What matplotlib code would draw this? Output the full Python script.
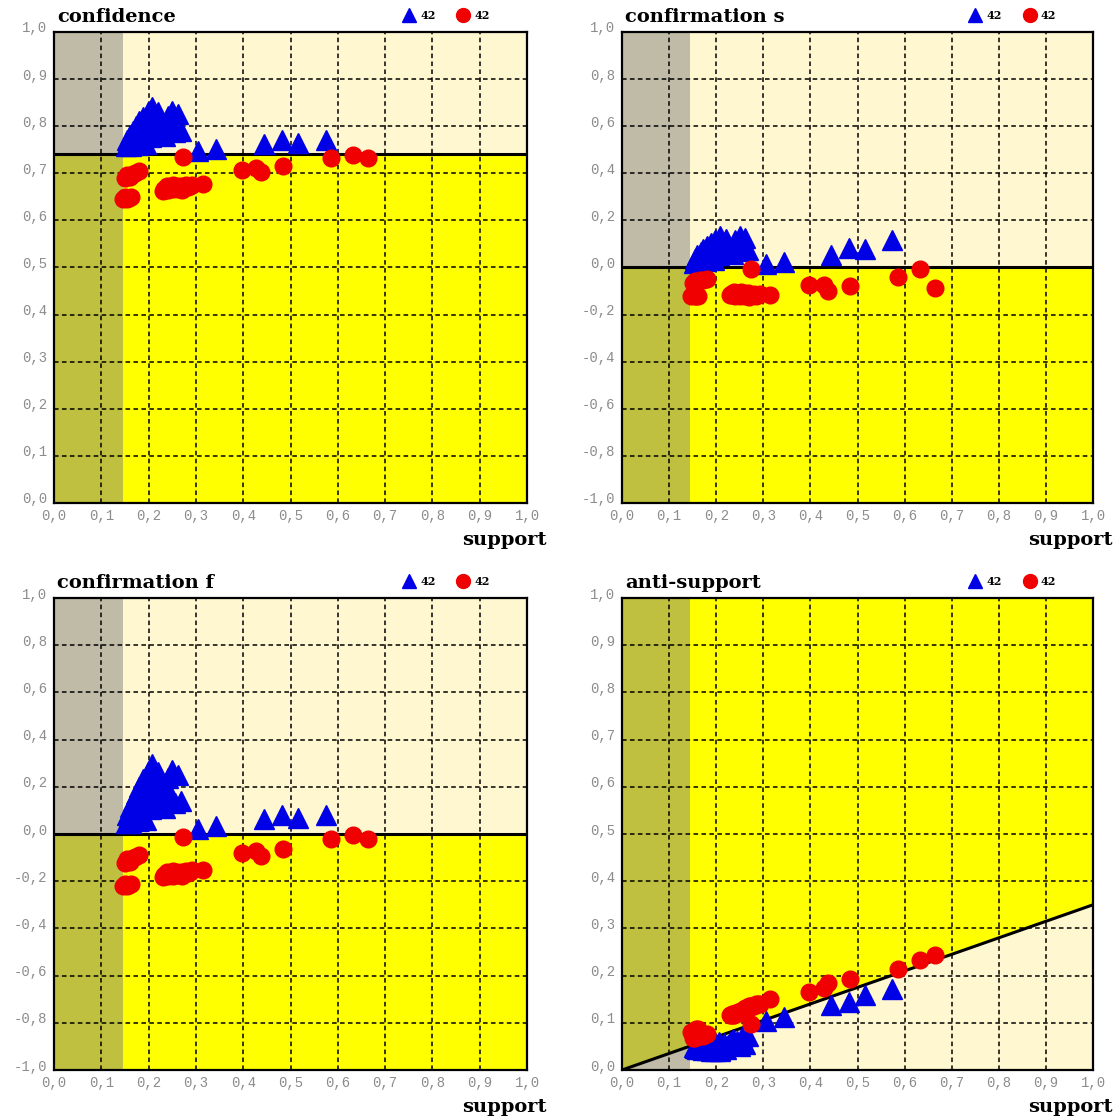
import matplotlib
matplotlib.use("Agg")
import matplotlib.pyplot as plt
import matplotlib.transforms as mtransforms
from matplotlib.lines import Line2D

# --- data (42 rules per group) ---
support_blue = [0.152, 0.155, 0.158, 0.160, 0.163, 0.165, 0.168, 0.170, 0.173, 0.175,
                0.178, 0.180, 0.183, 0.185, 0.188, 0.190, 0.193, 0.195, 0.198, 0.200,
                0.203, 0.205, 0.208, 0.210, 0.213, 0.216, 0.220, 0.225, 0.230, 0.235,
                0.240, 0.245, 0.250, 0.255, 0.262, 0.268, 0.305, 0.343, 0.443, 0.483,
                0.515, 0.574]
confidence_blue = [0.757, 0.770, 0.763, 0.782, 0.758, 0.775, 0.790, 0.765, 0.800, 0.780,
                   0.760, 0.810, 0.792, 0.772, 0.820, 0.805, 0.785, 0.762, 0.830, 0.815,
                   0.798, 0.778, 0.840, 0.825, 0.808, 0.788, 0.830, 0.812, 0.795, 0.780,
                   0.822, 0.800, 0.833, 0.788, 0.826, 0.790, 0.748, 0.752, 0.763, 0.770,
                   0.765, 0.770]
conf_s_blue = [0.021, 0.038, 0.029, 0.053, 0.023, 0.045, 0.064, 0.032, 0.077, 0.052,
               0.026, 0.090, 0.068, 0.042, 0.104, 0.085, 0.060, 0.030, 0.118, 0.099,
               0.078, 0.052, 0.133, 0.114, 0.092, 0.066, 0.123, 0.100, 0.077, 0.057,
               0.116, 0.087, 0.133, 0.071, 0.126, 0.076, 0.014, 0.022, 0.055, 0.081,
               0.077, 0.118]
conf_f_blue = [0.045, 0.081, 0.062, 0.115, 0.048, 0.095, 0.139, 0.067, 0.169, 0.109,
               0.053, 0.199, 0.145, 0.087, 0.231, 0.184, 0.124, 0.059, 0.264, 0.215,
               0.163, 0.104, 0.297, 0.247, 0.193, 0.133, 0.264, 0.206, 0.154, 0.109,
               0.237, 0.169, 0.273, 0.133, 0.250, 0.139, 0.021, 0.032, 0.062, 0.081,
               0.067, 0.081]
antisupport_blue = [0.049, 0.046, 0.049, 0.045, 0.052, 0.048, 0.045, 0.052, 0.043, 0.049,
                    0.056, 0.042, 0.048, 0.055, 0.041, 0.046, 0.053, 0.061, 0.041, 0.045,
                    0.051, 0.059, 0.040, 0.045, 0.051, 0.058, 0.045, 0.052, 0.059, 0.066,
                    0.052, 0.061, 0.050, 0.069, 0.055, 0.071, 0.103, 0.113, 0.138, 0.144,
                    0.158, 0.172]

support_red = [0.150, 0.155, 0.160, 0.166, 0.172, 0.180, 0.146, 0.150, 0.154, 0.158,
               0.162, 0.230, 0.232, 0.234, 0.236, 0.240, 0.244, 0.248, 0.251, 0.255,
               0.258, 0.262, 0.265, 0.268, 0.272, 0.276, 0.280, 0.284, 0.288, 0.292,
               0.252, 0.238, 0.270, 0.314, 0.273, 0.397, 0.428, 0.437, 0.484, 0.586,
               0.632, 0.664]
confidence_red = [0.690, 0.696, 0.692, 0.699, 0.701, 0.704, 0.646, 0.649, 0.646, 0.648,
                  0.650, 0.663, 0.667, 0.665, 0.669, 0.664, 0.668, 0.671, 0.666, 0.670,
                  0.673, 0.667, 0.671, 0.674, 0.669, 0.672, 0.675, 0.670, 0.673, 0.676,
                  0.675, 0.672, 0.665, 0.677, 0.735, 0.707, 0.711, 0.703, 0.715, 0.732,
                  0.739, 0.732]
conf_s_red = [-0.064, -0.057, -0.062, -0.054, -0.052, -0.048, -0.121, -0.118, -0.123, -0.122,
              -0.120, -0.118, -0.112, -0.116, -0.110, -0.119, -0.113, -0.110, -0.119, -0.113,
              -0.109, -0.120, -0.114, -0.110, -0.120, -0.115, -0.111, -0.122, -0.117, -0.113,
              -0.104, -0.105, -0.126, -0.118, -0.008, -0.075, -0.073, -0.098, -0.077, -0.040,
              -0.007, -0.086]
conf_f_red = [-0.122, -0.108, -0.118, -0.101, -0.097, -0.090, -0.219, -0.212, -0.219, -0.215,
              -0.210, -0.183, -0.174, -0.178, -0.170, -0.180, -0.172, -0.165, -0.176, -0.167,
              -0.161, -0.174, -0.165, -0.159, -0.170, -0.163, -0.156, -0.167, -0.161, -0.154,
              -0.156, -0.163, -0.178, -0.152, -0.013, -0.082, -0.073, -0.092, -0.063, -0.021,
              -0.003, -0.021]
antisupport_red = [0.067, 0.068, 0.071, 0.072, 0.073, 0.076, 0.080, 0.081, 0.084, 0.086,
                   0.087, 0.117, 0.116, 0.118, 0.117, 0.121, 0.121, 0.122, 0.126, 0.126,
                   0.125, 0.131, 0.130, 0.130, 0.135, 0.135, 0.135, 0.140, 0.140, 0.140,
                   0.121, 0.116, 0.136, 0.150, 0.098, 0.165, 0.174, 0.185, 0.193, 0.215,
                   0.233, 0.243]

min_support = 0.145          # left strip
conf_threshold = 0.74        # confidence baseline
antisupport_slope = 0.35     # anti-support baseline at support = 1

x_ticks = [i / 10 for i in range(11)]
unit_ticks = [i / 10 for i in range(11)]
signed_ticks = [-1 + i * 0.2 for i in range(11)]

CREAM = "#FFF7CF"
YELLOW = "#FFFF00"
BLUE = "#0000E6"
RED = "#F00000"
MONO = ["Liberation Mono", "DejaVu Sans Mono"]
SLAB = ["DejaVu Serif"]

panels = [
    ("confidence", confidence_blue, confidence_red, (0, 1), unit_ticks, ("h", conf_threshold)),
    ("confirmation s", conf_s_blue, conf_s_red, (-1, 1), signed_ticks, ("h", 0.0)),
    ("confirmation f", conf_f_blue, conf_f_red, (-1, 1), signed_ticks, ("h", 0.0)),
    ("anti-support", antisupport_blue, antisupport_red, (0, 1), unit_ticks, ("d", antisupport_slope)),
]

W, H = 1120, 1119
fig = plt.figure(figsize=(W / 100, H / 100), dpi=100)
boxes = [(54, 32, 527, 503), (622, 32, 1093, 503),
         (54, 598, 527, 1070), (622, 598, 1093, 1070)]


def fmt(v):
    v = round(v, 1)
    if v == 0:
        v = 0.0
    return f"{v:.1f}".replace(".", ",")


for (title, yb, yr, ylim, yticks, base), (x0, y0, x1, y1) in zip(panels, boxes):
    ax = fig.add_axes([x0 / W, 1 - y1 / H, (x1 - x0) / W, (y1 - y0) / H])
    ax.set_xlim(0, 1)
    ax.set_ylim(*ylim)

    kind, level = base
    if kind == "h":
        ax.axhspan(level, ylim[1], color=CREAM, lw=0, zorder=0)
        ax.axhspan(ylim[0], level, color=YELLOW, lw=0, zorder=0)
        ax.axhline(level, color="black", lw=2.2, zorder=2)
    else:
        ax.fill_between([0, 1], [0, level], [1, 1], color=YELLOW, lw=0, zorder=0)
        ax.fill_between([0, 1], [0, 0], [0, level], color=CREAM, lw=0, zorder=0)
        ax.plot([0, 1], [0, level], color="black", lw=2.2, zorder=2)
    ax.axvspan(0, min_support, color="#808080", alpha=0.5, lw=0, zorder=0.2)

    ax.set_axisbelow(True)
    ax.grid(True, color="black", linestyle=(0, (3, 2.2)), linewidth=1.1)

    ax.plot(support_blue, yb, ls="none", marker="^", ms=14, color=BLUE,
            mec=BLUE, zorder=3, clip_on=False)
    ax.plot(support_red, yr, ls="none", marker="o", ms=12, color=RED,
            mec=RED, zorder=4, clip_on=False)

    ax.set_xticks(x_ticks)
    ax.set_yticks(yticks)
    ax.set_xticklabels([fmt(v) for v in x_ticks])
    ax.set_yticklabels([fmt(v) for v in yticks])
    ax.tick_params(length=0, labelsize=10, labelcolor="#8c8c8c", pad=4)
    ax.tick_params(axis="y", pad=5)
    for lab in ax.get_xticklabels() + ax.get_yticklabels():
        lab.set_family(MONO)
    shift = mtransforms.ScaledTranslation(0, 5 / 100, fig.dpi_scale_trans)
    for lab in ax.get_yticklabels():
        lab.set_transform(lab.get_transform() + shift)

    for sp in ax.spines.values():
        sp.set_linewidth(1.6)
        sp.set_zorder(5)

    ax.annotate(title, (0, 1), xycoords="axes fraction", xytext=(2, 4),
                textcoords="offset points", ha="left", va="bottom",
                fontsize=14, fontweight="bold", family=SLAB)
    ax.annotate("support", (1, 0), xycoords="axes fraction", xytext=(14, -27),
                textcoords="offset points", ha="right", va="center",
                fontsize=14, fontweight="bold", family=SLAB)

    handles = [Line2D([], [], ls="none", marker="^", ms=10, color=BLUE),
               Line2D([], [], ls="none", marker="o", ms=10, color=RED)]
    ax.legend(handles, [str(len(support_blue)), str(len(support_red))],
              ncol=2, loc="center", bbox_to_anchor=(0.83, 1.036), frameon=False,
              handlelength=1.0, handletextpad=0.5, columnspacing=2.0,
              borderpad=0, prop={"family": SLAB, "weight": "bold", "size": 8})

fig.savefig("out.png", dpi=100)
